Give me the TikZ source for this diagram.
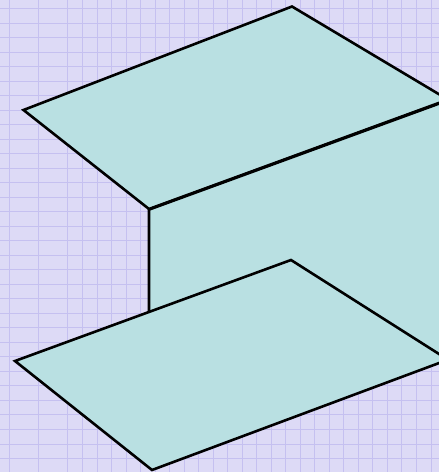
\documentclass[tikz,border=0pt]{standalone}
\definecolor{bgc}{HTML}{DDDAF6}
\definecolor{gridc}{HTML}{C5C0F0}
\definecolor{platec}{HTML}{B9E0E2}
\tikzset{
  plate/.style={fill=platec,draw=black,line width=2.6pt,line join=miter},
  wallfill/.style={fill=platec,draw=none},
  walledge/.style={draw=black,line width=2.8pt},
  gridline/.style={draw=gridc,line width=0.8pt}
}
\begin{document}
\begin{tikzpicture}[x=1pt,y=-1pt]
\useasboundingbox (0,0) rectangle (439,472);
\clip (0,0) rectangle (439,472);
\fill[bgc] (0,0) rectangle (439,472);
\foreach \gx in {9.3,38.3,67.3,82.7,96.9,111.7,126.2,140.7,155.2,169.7,184.2,198.7,213.2,227.7,242.2,256.7,271.2,285.7,300.2,314.7,329.2,343.7,358.2,372.7,387.2,401.7,416.2,430.9}
  \draw[gridline] (\gx,0) -- (\gx,472);
\foreach \gy in {8.5,23,37.5,52,66.5,81,95.6,110.1,124.6,139.1,153.6,168.1,182.6,197.1,211.7,226.2,240.7,255.2,269.7,284.2,298.7,313.2,327.8,342.3,356.8,371.3,385.8,400.3,414.8,429.3,443.9,458.4}
  \draw[gridline] (0,\gy) -- (439,\gy);
\coordinate (wa) at (149,209.5);
\coordinate (wb) at (450,99.5);
\coordinate (wc) at (450,360);
\coordinate (wd) at (149,313);
\fill[wallfill] (wa) -- (wb) -- (wc) -- (wd) -- cycle;
\draw[plate] (23.5,110) -- (292,6.5) -- (448,99.6) -- (149,209) -- cycle;
\draw[walledge] (wd) -- (wa) -- (wb);
\draw[plate] (15,361) -- (291,260) -- (448,359.7) -- (152,470) -- cycle;
\end{tikzpicture}
\end{document}
